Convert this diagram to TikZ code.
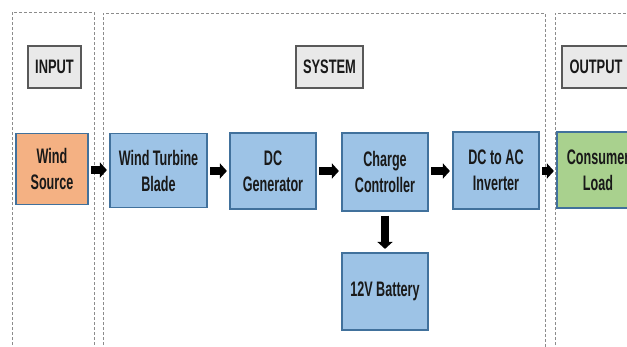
\documentclass[tikz,border=0pt]{standalone}
\usepackage{fontspec}
\setmainfont[FakeStretch=0.6]{Liberation Sans}
\newfontfamily\lblfont[FakeStretch=0.66]{Liberation Sans}
\usetikzlibrary{arrows.meta}
\definecolor{boxblue}{HTML}{9DC3E6}
\definecolor{edgeblue}{HTML}{41719C}
\definecolor{boxorange}{HTML}{F4B183}
\definecolor{boxgreen}{HTML}{A9D18E}
\definecolor{lblgray}{HTML}{E9E9E9}
\definecolor{lbledge}{HTML}{595959}
\definecolor{panelgray}{HTML}{8C8C8C}
\begin{document}
\begin{tikzpicture}[x=1pt,y=-1pt,
  blk/.style={draw=edgeblue,line width=1.2pt,fill=boxblue,align=center,inner sep=0pt,
    font=\fontsize{21}{26}\selectfont\bfseries,text=black!90},
  lbl/.style={draw=lbledge,line width=1.2pt,fill=lblgray,align=center,inner sep=0pt,
    minimum height=42pt,font=\lblfont\fontsize{19.5}{24}\selectfont\bfseries,text=black!90},
  panel/.style={draw=panelgray,line width=0.8pt,dash pattern=on 3pt off 2pt},
  arr/.style={line width=7.5pt,-{Triangle[length=7pt,width=15pt]},shorten <=2.5pt,shorten >=2.5pt}]
\useasboundingbox (0,0) rectangle (627,346);
\clip (0,0) rectangle (627,346);
% panels
\draw[panel] (12,360) -- (12,12) -- (94,12) -- (94,360);
\draw[panel] (103,360) -- (103,13) -- (545,13) -- (545,360);
\draw[panel] (555,360) -- (555,13) -- (640,13);
% labels
\node[lbl,minimum width=53pt] (lin) at (54.5,67) {INPUT};
\node[lbl,minimum width=67pt] (lsys) at (329.5,67) {SYSTEM};
\node[lbl,minimum width=68pt] (lout) at (596,67) {OUTPUT};
% blocks
\node[blk,fill=boxorange,minimum width=72pt,minimum height=71pt] (ws) at (52,169) {Wind\\Source};
\node[blk,minimum width=97pt,minimum height=74pt] (wtb) at (158.5,170.5) {Wind Turbine\\Blade};
\node[blk,minimum width=86pt,minimum height=76pt] (dcg) at (273,171) {DC\\Generator};
\node[blk,minimum width=86pt,minimum height=78pt] (cc) at (385,172) {Charge\\Controller};
\node[blk,minimum width=86pt,minimum height=77pt] (inv) at (496,170.5) {DC to AC\\Inverter};
\node[blk,fill=boxgreen,minimum width=82pt,minimum height=76pt] (load) at (598,170) {Consumer\\Load};
\node[blk,minimum width=86pt,minimum height=77pt] (bat) at (385,291.5) {12V Battery};
% arrows
\draw[arr] (ws.east |- 0,170) -- (wtb.west |- 0,170);
\draw[arr] (wtb.east |- 0,171) -- (dcg.west |- 0,171);
\draw[arr] (dcg.east |- 0,171) -- (cc.west |- 0,171);
\draw[arr] (cc.east |- 0,171) -- (inv.west |- 0,171);
\draw[arr] (inv.east |- 0,171) -- (load.west |- 0,171);
\draw[arr,shorten <=4pt,shorten >=3.5pt] (cc.south) -- (bat.north);
\end{tikzpicture}
\end{document}
